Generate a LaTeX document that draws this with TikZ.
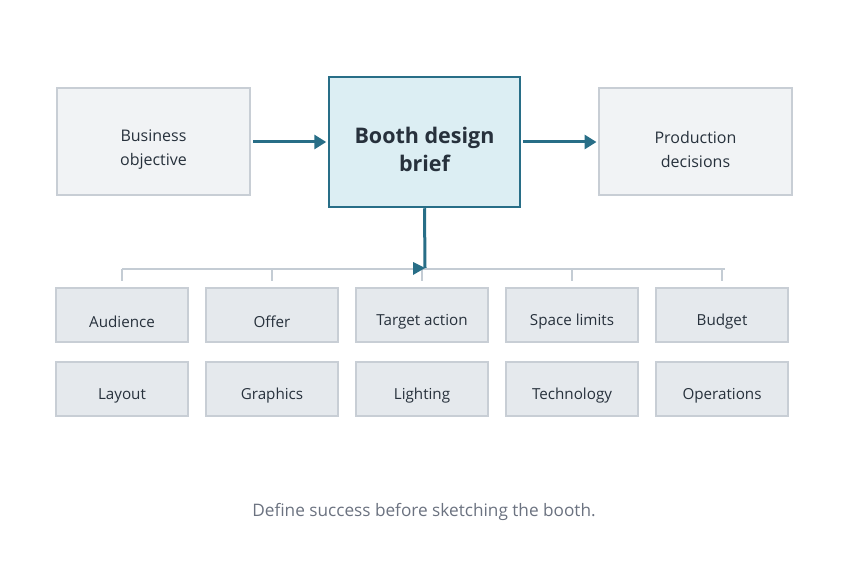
\documentclass[tikz,border=0pt]{standalone}
\usepackage{fontspec}
\setmainfont{Open Sans}
\usetikzlibrary{arrows.meta,calc}
\definecolor{teal}{HTML}{286E87}
\definecolor{briefbg}{HTML}{DCEEF3}
\definecolor{sidebg}{HTML}{F1F3F5}
\definecolor{boxbg}{HTML}{E5E9ED}
\definecolor{edge}{HTML}{C8CED5}
\definecolor{bus}{HTML}{C4CCD4}
\definecolor{ink}{HTML}{27313C}
\definecolor{capt}{HTML}{6B7280}
\tikzset{
  sidebox/.style={draw=edge, line width=2pt, fill=sidebg, minimum width=193pt, minimum height=107pt, inner sep=0pt},
  sidetext/.style={yshift=-7.5pt, inner sep=0pt, align=center, text=ink, font=\fontsize{16}{24}\selectfont},
  briefbox/.style={draw=teal, line width=2.5pt, fill=briefbg, minimum width=191pt, minimum height=130pt, inner sep=0pt},
  brieftext/.style={yshift=-7pt, inner sep=0pt, align=center, text=ink, font=\fontsize{21.5}{28}\selectfont\bfseries},
  itembox/.style={draw=edge, line width=1.3pt, fill=boxbg, minimum width=132pt, minimum height=54pt, inner sep=0pt},
  itemtext/.style={yshift=-7pt, inner sep=0pt, text=ink, font=\fontsize{15.2}{18}\selectfont},
  flow/.style={draw=teal, line width=3pt, -{Triangle[length=12pt,width=14pt]}},
  busline/.style={draw=bus, line width=2pt},
}
\begin{document}
\begin{tikzpicture}[x=1pt,y=-1pt]
\useasboundingbox (0,0) rectangle (848,580);
\node[sidebox, label={[sidetext]center:Business\\objective}] (biz) at (153.5,142) {};
\node[briefbox, label={[brieftext]center:Booth design\\brief}] (brief) at (424.5,142) {};
\node[sidebox, label={[sidetext]center:Production\\decisions}] (prod) at (695.5,142) {};
\draw[flow] ($(biz.east)+(2pt,0)$) coordinate (a1) -- ($(brief.west)+(-1.5pt,0)$) coordinate (a2);
\draw[flow] ($(brief.east)+(2pt,0)$) coordinate (b1) -- ($(prod.west)+(-1.5pt,0)$) coordinate (b2);
% items
\foreach \n/\t [count=\i from 0] in {aud/Audience, off/Offer, tgt/Target action, spc/Space limits, bud/Budget}
  \node[itembox, label={[itemtext]center:\t}] (\n) at (122+150*\i,315) {};
\foreach \n/\t [count=\i from 0] in {lay/Layout, gra/Graphics, lig/Lighting, tec/Technology, ops/Operations}
  \node[itembox, label={[itemtext]center:\t}] (\n) at (122+150*\i,389) {};
% bus
\coordinate (busL) at (122,269);
\coordinate (busR) at (725,269);
\draw[busline] (busL) -- (busR);
\foreach \n in {aud,off,tgt,spc,bud}
  \draw[busline] (\n.north |- busL) -- ($(\n.north)+(0,-6)$);
% brief to bus
\coordinate (bj) at (425,268);
\coordinate (bjt) at (413,268);
\draw[teal, line width=3pt] (brief.south) -- (bj);
\fill[teal] (bj) -- (bjt |- 0,262) -- (bjt |- 0,275) -- cycle;
\node[text=capt, font=\fontsize{17.2}{20}\selectfont] (cap) at (424,512) {Define success before sketching the booth.};
\end{tikzpicture}
\end{document}
